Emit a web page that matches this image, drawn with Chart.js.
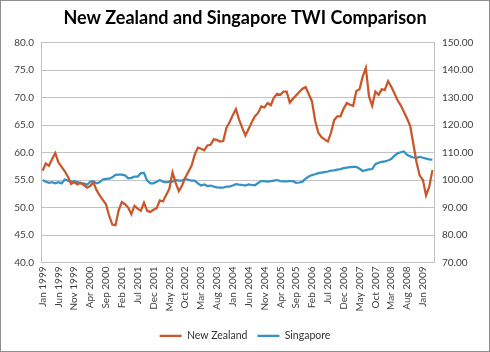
<!DOCTYPE html>
<html>
<head>
<meta charset="utf-8">
<script src="https://cdn.jsdelivr.net/npm/chart.js@4.4.1/dist/chart.umd.min.js"></script>
<style>
  body { margin: 0; background: #fff; }
  #wrap { width: 490px; height: 352px; box-sizing: border-box; border: 1px solid #8e8e8e; background: #fff; }
  canvas { display: block; }
</style>
</head>
<body>
<div id="wrap"><canvas id="twiChart" width="488" height="350"></canvas></div>
<script>
// --- Data ---
const monthNames = ['Jan', 'Feb', 'Mar', 'Apr', 'May', 'Jun', 'Jul', 'Aug', 'Sep', 'Oct', 'Nov', 'Dec'];
const startYear = 1999;
const monthCount = 124; // Jan 1999 .. Apr 2009

const newZealand = [
  56.7, 58.0, 57.6, 58.8, 59.9, 58.2, 57.4, 56.6, 55.6, 54.3, 54.6, 54.2,
  54.5, 54.1, 53.6, 53.9, 54.6, 53.2, 52.2, 51.4, 50.6, 48.5, 46.9, 46.8,
  49.5, 51.0, 50.6, 50.0, 48.8, 50.3, 49.8, 49.4, 50.9, 49.4, 49.2, 49.6,
  49.9, 51.3, 51.1, 52.3, 53.4, 56.4, 54.5, 53.0, 54.0, 55.4, 56.5, 57.6,
  59.6, 60.9, 60.7, 60.4, 61.3, 61.4, 62.4, 62.3, 62.0, 62.1, 64.5, 65.5,
  66.8, 67.9, 66.0, 64.5, 63.1, 64.3, 65.5, 66.6, 67.2, 68.4, 68.2, 69.0,
  68.6, 70.0, 70.7, 70.5, 71.1, 71.1, 69.1, 69.8, 70.4, 71.0, 71.6, 71.9,
  70.6, 69.3, 65.8, 63.6, 62.8, 62.4, 62.0, 63.6, 65.9, 66.6, 66.6, 68.0,
  69.0, 68.7, 68.5, 71.2, 71.5, 73.8, 75.4, 70.2, 68.5, 71.1, 70.5, 71.5,
  71.4, 73.0, 72.0, 70.8, 69.5, 68.6, 67.4, 66.2, 64.8, 61.5, 58.2, 55.8,
  55.0, 52.2, 53.8, 56.8
];

const singapore = [
  100.0, 99.4, 99.0, 99.2, 98.8, 99.2, 98.8, 100.2, 99.8, 99.4, 99.6, 99.3,
  98.9, 98.8, 98.3, 99.4, 99.6, 98.8, 99.2, 100.2, 100.4, 100.5, 101.0, 101.9,
  102.0, 102.0, 101.7, 100.6, 100.8, 101.2, 101.2, 102.5, 102.6, 99.8, 98.8, 98.8,
  99.4, 100.0, 99.4, 99.2, 99.4, 99.4, 100.0, 99.8, 99.8, 100.4, 100.1, 99.8,
  99.8, 98.8, 98.0, 98.4, 97.8, 98.0, 97.6, 97.3, 97.2, 97.2, 97.6, 97.6,
  98.0, 98.5, 98.3, 98.2, 98.0, 98.4, 98.2, 98.1, 98.9, 99.6, 99.6, 99.4,
  99.6, 99.8, 100.0, 99.6, 99.5, 99.5, 99.6, 99.6, 99.0, 99.1, 99.4, 100.5,
  101.3, 101.8, 102.1, 102.5, 102.7, 102.9, 103.1, 103.4, 103.5, 103.8, 104.0, 104.3,
  104.5, 104.7, 104.8, 104.8, 104.1, 103.3, 103.6, 103.9, 104.0, 105.8, 106.3, 106.6,
  106.8, 107.1, 107.6, 108.8, 109.7, 110.1, 110.4, 109.2, 108.6, 108.2, 108.1, 108.4,
  108.1, 107.8, 107.5, 107.4
];

const leftTicks = { min: 40, max: 80, step: 5 };
const rightTicks = { min: 70, max: 150, step: 10 };
const labelEvery = 5;

const months = [];
for (let i = 0; i < monthCount; i++) {
    months.push(monthNames[i % 12] + ' ' + (startYear + Math.floor(i / 12)));
}

// --- Chart ---
const font = 'Lato, "Open Sans", sans-serif';
const gridColor = '#c3c3c3';
const axisText = '#404040';

const ctx = document.getElementById('twiChart').getContext('2d');
const twiChart = new Chart(ctx, {
    type: 'line',
    data: {
        labels: months,
        datasets: [
            {
                label: 'New Zealand',
                data: newZealand,
                borderColor: '#c9572a',
                backgroundColor: '#c9572a',
                borderWidth: 2.25,
                pointRadius: 0,
                tension: 0,
                yAxisID: 'y'
            },
            {
                label: 'Singapore',
                data: singapore,
                borderColor: '#3592c4',
                backgroundColor: '#3592c4',
                borderWidth: 2.25,
                pointRadius: 0,
                tension: 0,
                yAxisID: 'y1'
            }
        ]
    },
    options: {
        responsive: false,
        animation: false,
        devicePixelRatio: 1,
        layout: { padding: { top: 0, right: 0, bottom: 0, left: 0 } },
        plugins: {
            title: {
                display: true,
                text: 'New Zealand and Singapore TWI Comparison',
                color: '#000',
                font: { family: font, size: 18, weight: 'bold' },
                padding: { top: 6, bottom: 14 }
            },
            legend: {
                position: 'bottom',
                labels: {
                    usePointStyle: true,
                    pointStyle: 'line',
                    pointStyleWidth: 22,
                    color: '#333',
                    font: { family: font, size: 10.5 },
                    padding: 10
                }
            },
            tooltip: { enabled: false }
        },
        scales: {
            x: {
                type: 'category',
                offset: true,
                grid: { display: false, drawTicks: false },
                border: { color: gridColor },
                ticks: {
                    autoSkip: false,
                    minRotation: 90,
                    maxRotation: 90,
                    padding: 4,
                    color: axisText,
                    font: { family: font, size: 10 },
                    callback: function (v, i) { return i % labelEvery === 0 ? this.getLabelForValue(v) : ''; }
                },
                afterFit: s => { s.height = 58; }
            },
            y: {
                position: 'left',
                min: leftTicks.min,
                max: leftTicks.max,
                grid: { color: gridColor, drawTicks: false },
                border: { color: gridColor },
                ticks: {
                    stepSize: leftTicks.step,
                    padding: 7,
                    color: axisText,
                    font: { family: font, size: 10 },
                    callback: v => v.toFixed(1)
                },
                afterFit: s => { s.width = 40; }
            },
            y1: {
                position: 'right',
                min: rightTicks.min,
                max: rightTicks.max,
                grid: { drawOnChartArea: false, drawTicks: false },
                border: { color: gridColor },
                ticks: {
                    stepSize: rightTicks.step,
                    padding: 8,
                    color: axisText,
                    font: { family: font, size: 10 },
                    callback: v => v.toFixed(2)
                },
                afterFit: s => { s.width = 55; }
            }
        }
    }
});
</script>
</body>
</html>
